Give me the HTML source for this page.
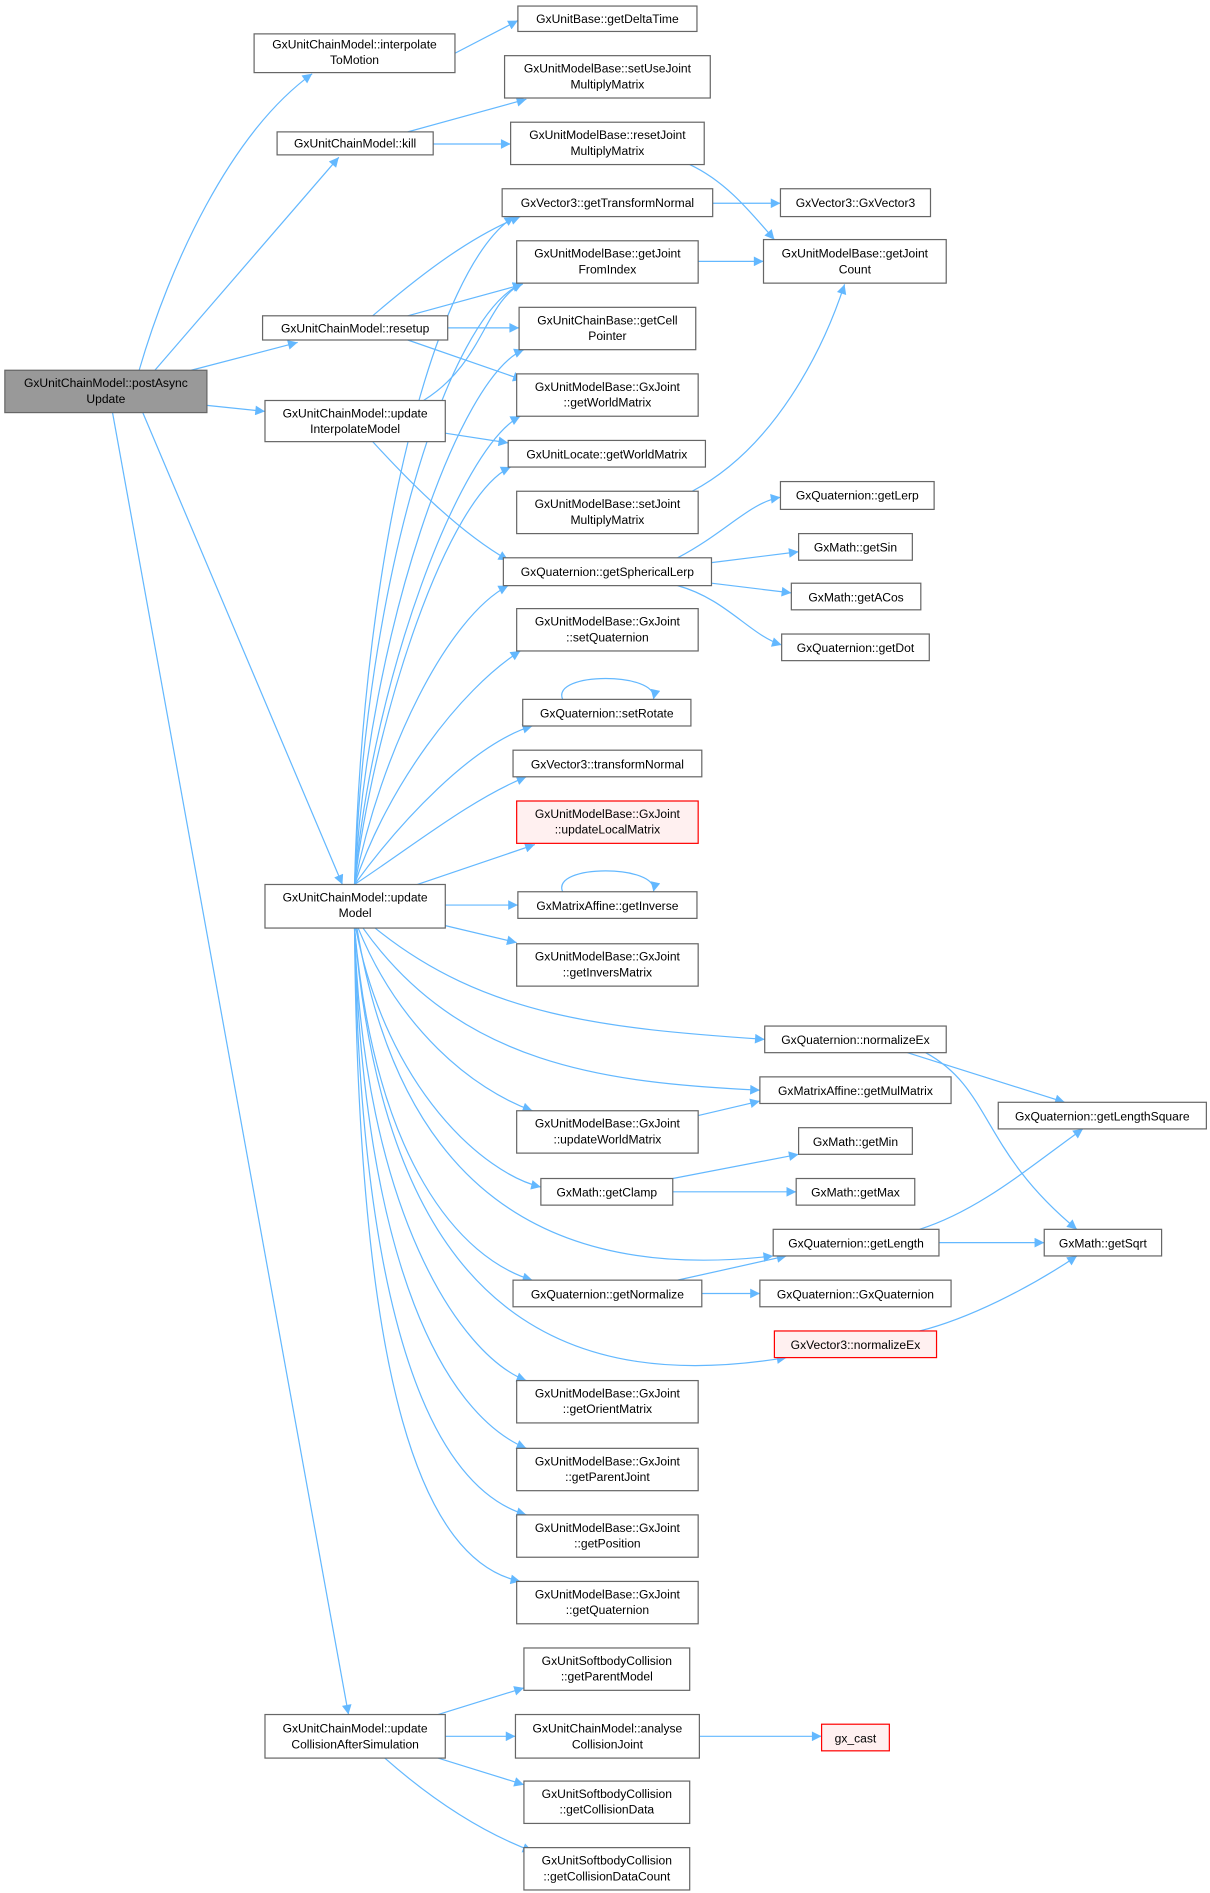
<!DOCTYPE html>
<html><head><meta charset="utf-8"><style>
html,body{margin:0;padding:0;background:#fff}
svg{display:block}
text{font-family:"Liberation Sans",Arial,sans-serif;font-size:10px;fill:#000;text-anchor:middle}
.b{fill:#fff;stroke:#666;stroke-width:1}
.r{fill:#fff0f0;stroke:#f00;stroke-width:1}
.g{fill:#999;stroke:#666;stroke-width:1}
.e{fill:none;stroke:#63b8ff;stroke-width:1}
</style></head><body>
<svg width="1210" height="1893" viewBox="0 0 1000 1564.5" preserveAspectRatio="none" xmlns="http://www.w3.org/2000/svg">
<defs><marker id="a" viewBox="0 0 10 10" refX="10" refY="5" markerWidth="10" markerHeight="8" markerUnits="userSpaceOnUse" orient="auto"><path d="M0,0L10,5L0,10z" fill="#63b8ff"/></marker></defs>
<g class="e" marker-end="url(#a)">
<path d="M115,306 C140,220 190,110 258,61"/>
<path d="M128,306 L280,130"/>
<path d="M158,306 L246,283"/>
<path d="M171,335 L219,340"/>
<path d="M118,341 L283,731"/>
<path d="M93,341 L288,1417"/>
<path d="M376,44 L428,17"/>
<path d="M337,109 L435,82"/>
<path d="M358,119 L422,119"/>
<path d="M570,136 C600,150 620,175 640,198"/>
<path d="M589,168 L645,168"/>
<path d="M577,216 L631,216"/>
<path d="M572,406 C640,370 680,290 698,235"/>
<path d="M560,461 C600,440 620,415 645,411"/>
<path d="M588,465 L660,456"/>
<path d="M588,482 L654,490"/>
<path d="M560,484 C600,495 620,525 646,533"/>
<path d="M308,261 C350,225 390,195 430,179"/>
<path d="M337,261 L432,235"/>
<path d="M370,271 L429,271"/>
<path d="M337,281 L432,314"/>
<path d="M350,331 C400,300 400,250 432,234"/>
<path d="M368,358 L420,366"/>
<path d="M308,365 C340,400 380,440 420,463"/>
<!-- updateModel up -->
<path d="M293,731 C300,450 360,220 425,179"/>
<path d="M293,731 C302,480 370,260 432,234"/>
<path d="M293,731 C305,520 380,310 433,289"/>
<path d="M293,731 C308,560 380,370 430,344"/>
<path d="M293,731 C310,590 370,410 422,386"/>
<path d="M293,731 C315,620 370,510 420,484"/>
<path d="M293,731 C320,650 380,570 430,538"/>
<path d="M293,731 C330,680 390,615 440,600"/>
<path d="M293,731 C340,700 390,660 435,642"/>
<path d="M345,731 L442,698"/>
<path d="M368,748 L428,748"/>
<path d="M368,765 L427,779"/>
<!-- updateModel down -->
<path d="M310,767 C400,840 500,850 632,859"/>
<path d="M300,767 C380,880 500,895 628,901"/>
<path d="M296,767 C330,850 390,900 440,918"/>
<path d="M294,767 C320,900 400,970 447,981"/>
<path d="M295,767 C330,980 450,1060 639,1038"/>
<path d="M293,767 C310,960 380,1040 440,1058"/>
<path d="M293,767 C320,1100 480,1150 650,1122"/>
<path d="M293,767 C300,1000 380,1120 435,1141"/>
<path d="M293,767 C300,1050 370,1170 435,1197"/>
<path d="M293,767 C298,1100 360,1230 435,1252"/>
<path d="M293,767 C296,1150 350,1290 430,1307"/>
<path d="M577,922 L628,910"/>
<path d="M556,974 L660,954"/>
<path d="M556,985 L658,985"/>
<path d="M760,1016 C810,1000 850,965 895,933"/>
<path d="M776,1027 L863,1027"/>
<path d="M560,1058 L650,1038"/>
<path d="M580,1069 L628,1069"/>
<path d="M750,870 L880,911"/>
<path d="M765,870 C820,900 810,950 890,1016"/>
<path d="M760,1100 C800,1090 850,1065 890,1038"/>
<path d="M362,1417 L433,1395"/>
<path d="M368,1435 L426,1435"/>
<path d="M362,1453 L433,1475"/>
<path d="M318,1453 C360,1490 400,1515 440,1530"/>
<path d="M578,1435 L679,1435"/>
<path d="M465,578 C455,555 545,555 540,578"/>
<path d="M465,737 C455,714 545,714 540,737"/>
</g>
<g>
<rect class="g" x="4" y="306" width="167" height="35"/><text x="87.5" y="320">GxUnitChainModel::postAsync</text><text x="87.5" y="333">Update</text>
<rect class="b" x="210" y="28" width="166" height="32"/><text x="293" y="40">GxUnitChainModel::interpolate</text><text x="293" y="53">ToMotion</text>
<rect class="b" x="229" y="109" width="129" height="19"/><text x="293.5" y="122">GxUnitChainModel::kill</text>
<rect class="b" x="217" y="261" width="153" height="20"/><text x="293.5" y="275">GxUnitChainModel::resetup</text>
<rect class="b" x="219" y="331" width="149" height="34"/><text x="293.5" y="345">GxUnitChainModel::update</text><text x="293.5" y="358">InterpolateModel</text>
<rect class="b" x="219" y="731" width="149" height="36"/><text x="293.5" y="745">GxUnitChainModel::update</text><text x="293.5" y="758">Model</text>
<rect class="b" x="219" y="1417" width="149" height="36"/><text x="293.5" y="1432">GxUnitChainModel::update</text><text x="293.5" y="1445">CollisionAfterSimulation</text>

<rect class="b" x="428" y="5" width="148" height="21"/><text x="502" y="19">GxUnitBase::getDeltaTime</text>
<rect class="b" x="417" y="46" width="170" height="35"/><text x="502" y="60">GxUnitModelBase::setUseJoint</text><text x="502" y="73">MultiplyMatrix</text>
<rect class="b" x="422" y="101" width="160" height="35"/><text x="502" y="115">GxUnitModelBase::resetJoint</text><text x="502" y="128">MultiplyMatrix</text>
<rect class="b" x="415" y="156" width="174" height="23"/><text x="502" y="171">GxVector3::getTransformNormal</text>
<rect class="b" x="427" y="199" width="150" height="35"/><text x="502" y="213">GxUnitModelBase::getJoint</text><text x="502" y="226">FromIndex</text>
<rect class="b" x="429" y="254" width="146" height="35"/><text x="502" y="268">GxUnitChainBase::getCell</text><text x="502" y="281">Pointer</text>
<rect class="b" x="427" y="309" width="150" height="35"/><text x="502" y="323">GxUnitModelBase::GxJoint</text><text x="502" y="336">::getWorldMatrix</text>
<rect class="b" x="420" y="364" width="163" height="22"/><text x="501.5" y="379">GxUnitLocate::getWorldMatrix</text>
<rect class="b" x="427" y="406" width="150" height="35"/><text x="502" y="420">GxUnitModelBase::setJoint</text><text x="502" y="433">MultiplyMatrix</text>
<rect class="b" x="416" y="461" width="172" height="23"/><text x="502" y="476">GxQuaternion::getSphericalLerp</text>
<rect class="b" x="427" y="503" width="150" height="35"/><text x="502" y="517">GxUnitModelBase::GxJoint</text><text x="502" y="530">::setQuaternion</text>
<rect class="b" x="432" y="578" width="139" height="22"/><text x="501.5" y="593">GxQuaternion::setRotate</text>
<rect class="b" x="424" y="620" width="156" height="22"/><text x="502" y="635">GxVector3::transformNormal</text>
<rect class="r" x="427" y="662" width="150" height="35"/><text x="502" y="676">GxUnitModelBase::GxJoint</text><text x="502" y="689">::updateLocalMatrix</text>
<rect class="b" x="428" y="737" width="148" height="22"/><text x="502" y="752">GxMatrixAffine::getInverse</text>
<rect class="b" x="427" y="780" width="150" height="35"/><text x="502" y="794">GxUnitModelBase::GxJoint</text><text x="502" y="807">::getInversMatrix</text>
<rect class="b" x="427" y="918" width="150" height="35"/><text x="502" y="932">GxUnitModelBase::GxJoint</text><text x="502" y="945">::updateWorldMatrix</text>
<rect class="b" x="447" y="974" width="109" height="22"/><text x="501.5" y="989">GxMath::getClamp</text>
<rect class="b" x="424" y="1058" width="156" height="22"/><text x="502" y="1073">GxQuaternion::getNormalize</text>
<rect class="b" x="427" y="1141" width="150" height="35"/><text x="502" y="1155">GxUnitModelBase::GxJoint</text><text x="502" y="1168">::getOrientMatrix</text>
<rect class="b" x="427" y="1197" width="150" height="35"/><text x="502" y="1211">GxUnitModelBase::GxJoint</text><text x="502" y="1224">::getParentJoint</text>
<rect class="b" x="427" y="1252" width="150" height="35"/><text x="502" y="1266">GxUnitModelBase::GxJoint</text><text x="502" y="1279">::getPosition</text>
<rect class="b" x="427" y="1307" width="150" height="35"/><text x="502" y="1321">GxUnitModelBase::GxJoint</text><text x="502" y="1334">::getQuaternion</text>
<rect class="b" x="433" y="1362" width="137" height="35"/><text x="501.5" y="1376">GxUnitSoftbodyCollision</text><text x="501.5" y="1389">::getParentModel</text>
<rect class="b" x="426" y="1417" width="152" height="36"/><text x="502" y="1432">GxUnitChainModel::analyse</text><text x="502" y="1445">CollisionJoint</text>
<rect class="b" x="433" y="1472" width="137" height="35"/><text x="501.5" y="1486">GxUnitSoftbodyCollision</text><text x="501.5" y="1499">::getCollisionData</text>
<rect class="b" x="433" y="1527" width="137" height="35"/><text x="501.5" y="1541">GxUnitSoftbodyCollision</text><text x="501.5" y="1554">::getCollisionDataCount</text>

<rect class="b" x="645" y="156" width="124" height="23"/><text x="707" y="171">GxVector3::GxVector3</text>
<rect class="b" x="631" y="198" width="151" height="36"/><text x="706.5" y="213">GxUnitModelBase::getJoint</text><text x="706.5" y="226">Count</text>
<rect class="b" x="645" y="398" width="127" height="23"/><text x="708.5" y="413">GxQuaternion::getLerp</text>
<rect class="b" x="660" y="441" width="94" height="22"/><text x="707" y="456">GxMath::getSin</text>
<rect class="b" x="654" y="482" width="107" height="22"/><text x="707.5" y="497">GxMath::getACos</text>
<rect class="b" x="646" y="524" width="122" height="22"/><text x="707" y="539">GxQuaternion::getDot</text>
<rect class="b" x="632" y="848" width="150" height="22"/><text x="707" y="863">GxQuaternion::normalizeEx</text>
<rect class="b" x="628" y="890" width="158" height="22"/><text x="707" y="905">GxMatrixAffine::getMulMatrix</text>
<rect class="b" x="660" y="932" width="94" height="22"/><text x="707" y="947">GxMath::getMin</text>
<rect class="b" x="658" y="974" width="98" height="22"/><text x="707" y="989">GxMath::getMax</text>
<rect class="b" x="639" y="1016" width="137" height="22"/><text x="707.5" y="1031">GxQuaternion::getLength</text>
<rect class="b" x="628" y="1058" width="158" height="22"/><text x="707" y="1073">GxQuaternion::GxQuaternion</text>
<rect class="r" x="640" y="1100" width="134" height="22"/><text x="707" y="1115">GxVector3::normalizeEx</text>
<rect class="r" x="679" y="1425" width="56" height="22"/><text x="707" y="1440">gx_cast</text>
<rect class="b" x="825" y="911" width="172" height="22"/><text x="911" y="926">GxQuaternion::getLengthSquare</text>
<rect class="b" x="863" y="1016" width="97" height="22"/><text x="911.5" y="1031">GxMath::getSqrt</text>
</g>
</svg>
</body></html>
